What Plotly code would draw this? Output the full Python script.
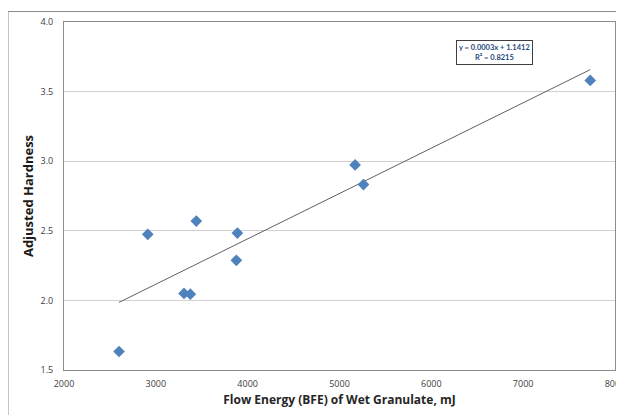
import numpy as np
import plotly.graph_objects as go

flow_energy = [2599, 2912, 3307, 3376, 3441, 3877, 3888, 5170, 5261, 7730]
adj_hardness = [1.633, 2.475, 2.05, 2.045, 2.57, 2.288, 2.484, 2.973, 2.832, 3.58]
x_ticks = [2000, 3000, 4000, 5000, 6000, 7000, 8000]
y_ticks = [1.5, 2.0, 2.5, 3.0, 3.5, 4.0]
eq_text = "<b>y = 0.0003x + 1.1412<br>R² = 0.8215</b>"

slope, intercept = np.polyfit(flow_energy, adj_hardness, 1)
tx = [min(flow_energy), max(flow_energy)]
ty = [slope * v + intercept for v in tx]

fig = go.Figure()
fig.add_trace(go.Scatter(x=tx, y=ty, mode="lines",
                         line=dict(color="#606060", width=1), hoverinfo="skip"))
fig.add_trace(go.Scatter(x=flow_energy, y=adj_hardness, mode="markers",
                         marker=dict(symbol="diamond", size=9, color="#4F81BD",
                                     line=dict(width=0))))

# page body has an 8px margin; figure sized to fit the 624x415 window
font_family = "Open Sans, Liberation Sans, sans-serif"
fig.update_layout(
    width=616, height=407,
    margin=dict(l=56, r=9, t=14, b=45),
    paper_bgcolor="white", plot_bgcolor="white",
    showlegend=False,
    font=dict(family=font_family, color="#404040"),
    xaxis=dict(range=[2000, 8000], tickvals=x_ticks, ticktext=[str(v) for v in x_ticks],
               showgrid=False, zeroline=False, showline=True, linecolor="#8c8c8c",
               linewidth=1, mirror=True, ticks="outside", ticklen=5, tickcolor="rgba(0,0,0,0)",
               automargin="bottom", ticklabeloverflow="allow",
               tickfont=dict(size=9, color="#404040"),
               title=dict(text="<b>Flow Energy (BFE) of Wet Granulate, mJ</b>",
                          font=dict(size=12, color="#262626"), standoff=6)),
    yaxis=dict(range=[1.5, 4.0], tickvals=y_ticks, ticktext=[f"{v:.1f}" for v in y_ticks],
               showgrid=True, gridcolor="#d0d0d0", gridwidth=1, zeroline=False,
               showline=True, linecolor="#8c8c8c", linewidth=1, mirror=True,
               ticks="outside", ticklen=8, tickcolor="rgba(0,0,0,0)",
               automargin="left",
               tickfont=dict(size=9, color="#404040"),
               title=dict(text="<b>Adjusted Hardness</b>",
                          font=dict(size=13, color="#1a1a1a"), standoff=3)),
    shapes=[dict(type="rect", xref="paper", yref="paper",
                 x0=(8 - 64) / 551, x1=(640 - 64) / 551,
                 y0=(369.5 - 430) / 348, y1=(369.5 - 11) / 348,
                 line=dict(color="#8c8c8c", width=1), layer="below")],
    annotations=[dict(x=(494.3 - 64) / 551, y=(369.5 - 51.7) / 348, xref="paper", yref="paper",
                      xanchor="center", yanchor="middle",
                      text=eq_text, showarrow=False, align="center",
                      font=dict(size=7.5, color="#1F497D", family="Lato, Open Sans, sans-serif"),
                      bordercolor="#404040", borderwidth=1, borderpad=2,
                      bgcolor="white")],
)

fig.write_html("out.html")
